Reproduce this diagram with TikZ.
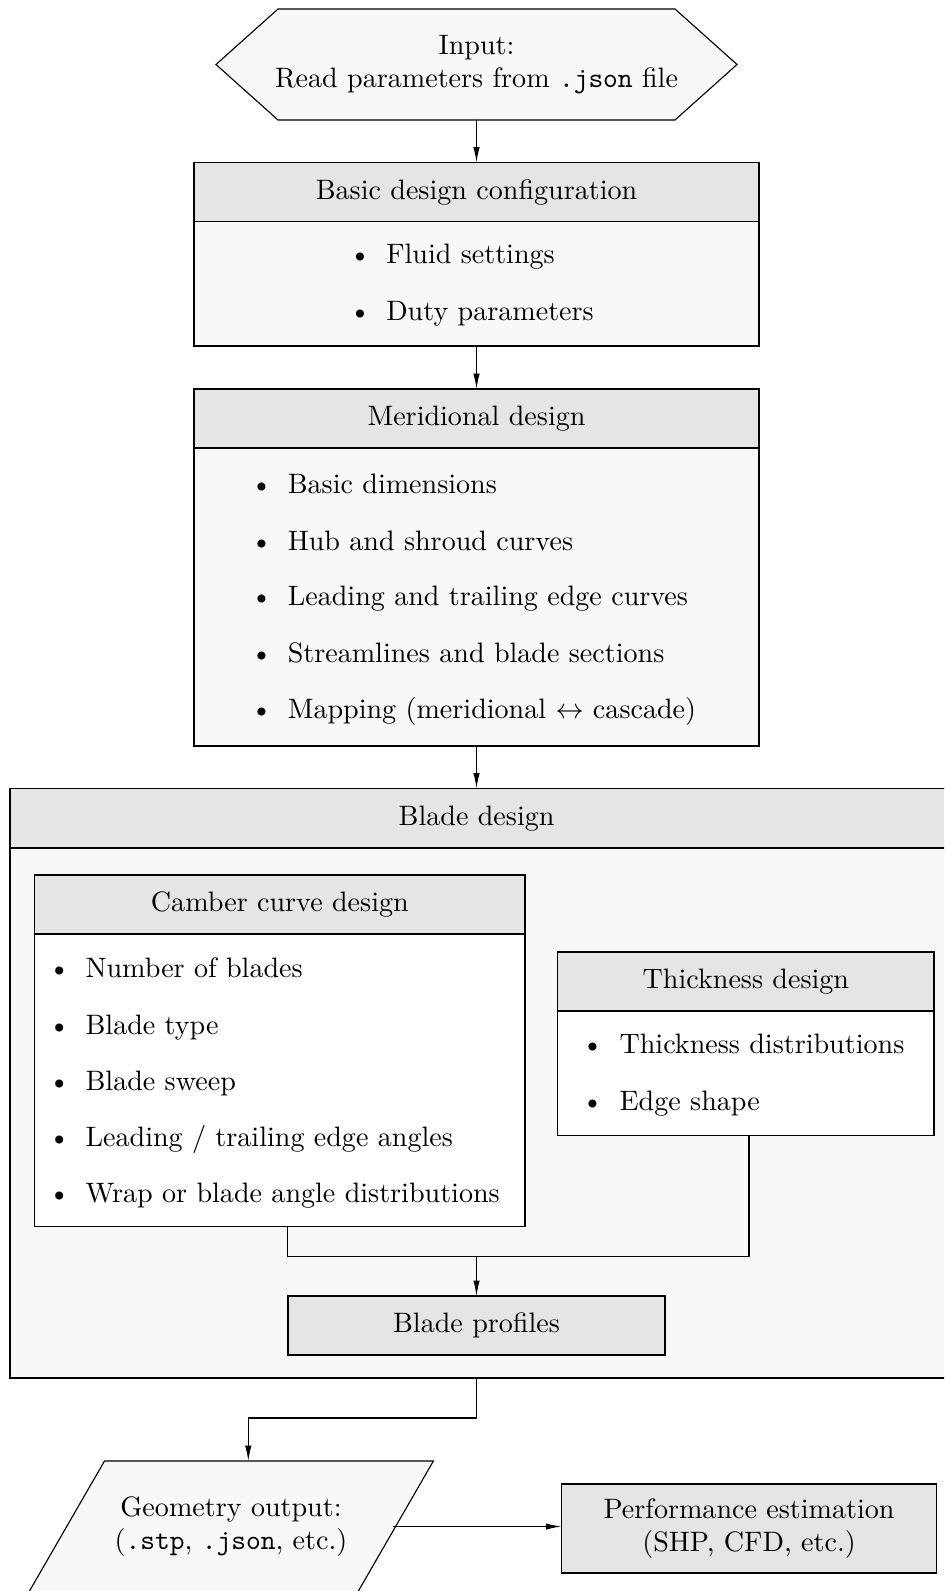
\documentclass[tikz,border=0pt]{standalone}
\usetikzlibrary{arrows.meta,calc}
\def\PX{0.356pt}
\definecolor{hdrgray}{HTML}{E5E5E5}
\definecolor{bodgray}{HTML}{F8F8F8}
\tikzset{
  boxbody/.style={draw, fill=bodgray, inner sep=0pt, outer sep=0pt},
  whitebody/.style={draw, fill=white, inner sep=0pt, outer sep=0pt},
  hdr/.style={draw, fill=hdrgray, inner sep=0pt, outer sep=0pt, text height=7pt, text depth=2pt},
  item/.style={anchor=base west, inner sep=0pt},
  bul/.style={anchor=base, inner sep=0pt},
  plain/.style={inner sep=0pt, outer sep=0pt, align=center},
  arr/.style={-{Latex[length=5.5pt,width=2.3pt]}},
  conn/.style={line width=0.4pt}
}
\begin{document}
\begin{tikzpicture}[x=0.356pt,y=-0.356pt]
\useasboundingbox (0,0) rectangle (944,1591);
\clip (0,0) rectangle (944,1591);
\coordinate (axis) at (476.5,0);
% Input hexagon
\draw[fill=bodgray] (216,64.5) -- (278,9) -- (675,9) -- (737,64.5) -- (675,120) -- (278,120) -- cycle;
\node[plain, minimum width=521*\PX, minimum height=111*\PX] (inp) at (476.5,64.5)
  {Input:\\Read parameters from \texttt{.json} file};
% Basic design configuration
\node[boxbody, minimum width=565*\PX, minimum height=183.5*\PX] (basic) at (476.5,254.25) {};
\node[hdr, minimum width=565*\PX, minimum height=59*\PX] (basicH) at (476.5,192) {Basic design configuration};
\node[bul] (bb1) at (360,264) {\textbullet};
\node[item] (bt1) at (385.7,264) {Fluid settings};
\node[bul] (bb2) at (360,320.6) {\textbullet};
\node[item] (bt2) at (385.7,320.6) {Duty parameters};
% Meridional design
\node[boxbody, minimum width=565*\PX, minimum height=357*\PX] (merid) at (476.5,567.5) {};
\node[hdr, minimum width=565*\PX, minimum height=59*\PX] (meridH) at (476.5,418.5) {Meridional design};
\node[bul] (mb1) at (261.5,493.2) {\textbullet};
\node[item] (mt1) at (287.2,493.2) {Basic dimensions};
\node[bul] (mb2) at (261.5,550) {\textbullet};
\node[item] (mt2) at (287.2,550) {Hub and shroud curves};
\node[bul] (mb3) at (261.5,605.8) {\textbullet};
\node[item] (mt3) at (287.2,605.8) {Leading and trailing edge curves};
\node[bul] (mb4) at (261.5,662.7) {\textbullet};
\node[item] (mt4) at (287.2,662.7) {Streamlines and blade sections};
\node[bul] (mb5) at (261.5,718.5) {\textbullet};
\node[item] (mt5) at (287.2,718.5) {Mapping (meridional $\leftrightarrow$ cascade)};
% Blade design
\node[boxbody, minimum width=936*\PX, minimum height=589.5*\PX] (blade) at (478,1083.25) {};
\node[hdr, minimum width=936*\PX, minimum height=59.5*\PX] (bladeH) at (478,818.25) {\hspace*{-1pt}Blade design};
% Camber curve design
\node[whitebody, minimum width=490.3*\PX, minimum height=351.5*\PX] (camber) at (279.85,1050.75) {};
\node[hdr, minimum width=490.3*\PX, minimum height=59*\PX] (camberH) at (279.85,904.5) {Camber curve design};
\node[bul] (cb1) at (59.3,977.3) {\textbullet};
\node[item] (ct1) at (85,977.3) {Number of blades};
\node[bul] (cb2) at (59.3,1034.2) {\textbullet};
\node[item] (ct2) at (85,1034.2) {Blade type};
\node[bul] (cb3) at (59.3,1090) {\textbullet};
\node[item] (ct3) at (85,1090) {Blade sweep};
\node[bul] (cb4) at (59.3,1146.8) {\textbullet};
\node[item] (ct4) at (85,1146.8) {Leading / trailing edge angles};
\node[bul] (cb5) at (59.3,1202.7) {\textbullet};
\node[item] (ct5) at (85,1202.7) {Wrap or blade angle distributions};
% Thickness design
\node[whitebody, minimum width=376.3*\PX, minimum height=183.7*\PX] (thick) at (745.85,1043.85) {};
\node[hdr, minimum width=376.3*\PX, minimum height=59*\PX] (thickH) at (745.85,981.5) {Thickness design};
\node[bul] (tb1) at (592.5,1053.5) {\textbullet};
\node[item] (tt1) at (619,1053.5) {Thickness distributions};
\node[bul] (tb2) at (592.5,1110.3) {\textbullet};
\node[item] (tt2) at (619,1110.3) {Edge shape};
% Blade profiles
\node[hdr, minimum width=377*\PX, minimum height=59*\PX] (prof) at (476.5,1325.5) {Blade profiles};
% Geometry output parallelogram
\draw[fill=bodgray] (104.5,1461) -- (433.4,1461) -- (357.8,1592) -- (28.9,1592) -- cycle;
\node[plain, minimum width=324*\PX, minimum height=131*\PX] (geo) at (231,1526.5)
  {Geometry output:\\(\texttt{.stp}, \texttt{.json}, etc.)};
% Performance estimation
\node[draw, fill=hdrgray, plain, minimum width=375.5*\PX, minimum height=89*\PX] (perf) at (749.05,1528.5)
  {Performance estimation\\(SHP, CFD, etc.)};
% Connectors
\draw[arr] (inp.south) -- (basic.north);
\draw[arr] (basic.south) -- (merid.north);
\draw[arr] (merid.south) -- (merid.south |- blade.north);
\coordinate (junc) at (476.5,1256.7);
\draw[conn] ($(camber.south)+(7.85,0)$) |- (junc) -| ($(thick.south)+(3.15,0)$);
\draw[arr] (junc) -- (prof.north);
\draw[arr] (blade.south -| axis) -- ++(0,40) -| ($(geo.north)+(17.3,0)$);
\draw[arr] (geo.east) -- (geo.east -| perf.west);
\end{tikzpicture}
\end{document}
